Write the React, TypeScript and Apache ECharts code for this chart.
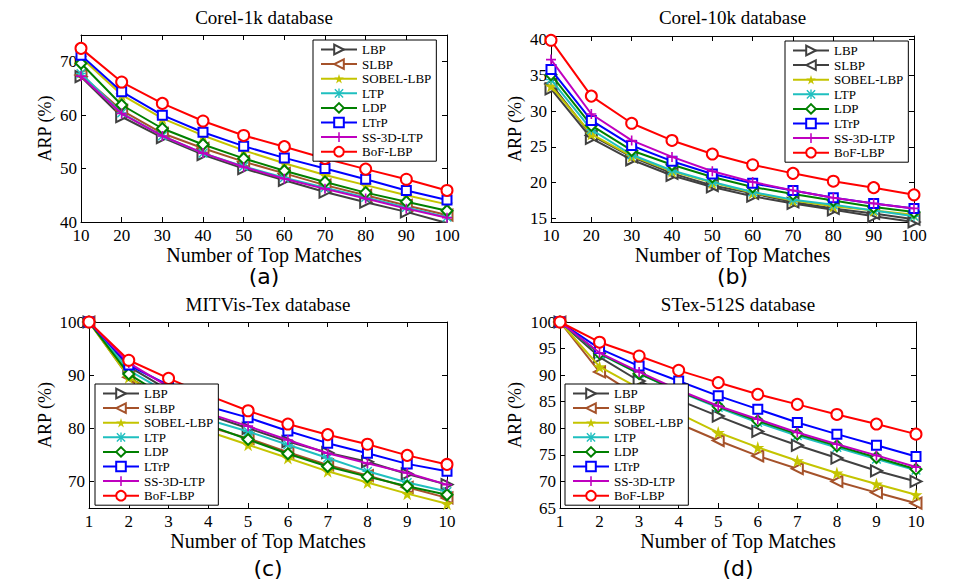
import React, { useEffect, useRef } from 'react';
import * as echarts from 'echarts';

// ---------- data ----------
const methods = ['LBP', 'SLBP', 'SOBEL-LBP', 'LTP', 'LDP', 'LTrP', 'SS-3D-LTP', 'BoF-LBP'];
const topMatchesCorel = [10, 20, 30, 40, 50, 60, 70, 80, 90, 100];
const topMatchesTex = [1, 2, 3, 4, 5, 6, 7, 8, 9, 10];

// rows follow `methods` order
const corel1kARP = [
  [67.2, 59.7, 55.8, 52.6, 50.0, 47.8, 45.6, 43.7, 41.9, 39.8],
  [67.5, 60.9, 56.6, 53.8, 51.3, 49.1, 46.9, 45.0, 43.1, 41.3],
  [70.8, 63.8, 59.4, 56.2, 53.4, 51.0, 48.8, 46.9, 45.0, 43.3],
  [67.8, 60.4, 56.1, 52.9, 50.4, 48.3, 46.4, 44.6, 42.7, 40.9],
  [69.7, 61.9, 57.5, 54.5, 51.9, 49.6, 47.5, 45.5, 43.8, 42.1],
  [71.2, 64.4, 60.0, 56.8, 54.2, 52.0, 50.0, 48.0, 45.9, 44.1],
  [67.3, 60.3, 56.1, 52.9, 50.3, 48.1, 46.2, 44.4, 42.5, 40.8],
  [72.5, 66.2, 62.2, 58.9, 56.2, 54.1, 51.9, 49.9, 48.0, 45.9],
];
const corel10kARP = [
  [33.1, 26.2, 23.2, 21.0, 19.4, 18.1, 17.1, 16.2, 15.3, 14.5],
  [33.8, 26.6, 23.6, 21.3, 19.6, 18.5, 17.3, 16.4, 15.7, 14.9],
  [33.5, 26.8, 23.7, 21.6, 20.0, 18.6, 17.5, 16.7, 16.1, 15.5],
  [34.4, 27.4, 23.9, 21.7, 20.1, 18.7, 17.6, 16.9, 16.1, 15.3],
  [35.1, 28.0, 24.5, 22.5, 20.8, 19.4, 18.4, 17.5, 16.6, 15.9],
  [35.8, 28.7, 25.2, 23.0, 21.2, 19.9, 18.9, 17.9, 17.1, 16.4],
  [37.2, 29.6, 25.9, 23.6, 21.6, 20.1, 18.9, 17.9, 17.1, 16.4],
  [39.9, 32.1, 28.3, 25.9, 24.0, 22.5, 21.3, 20.2, 19.3, 18.3],
];
const mitVisTexARP = [
  [100, 91.6, 87.2, 82.5, 80.0, 77.5, 75.4, 73.7, 71.4, 69.4],
  [100, 89.6, 85.3, 80.3, 78.1, 75.5, 73.1, 71.1, 68.9, 66.9],
  [100, 89.6, 84.7, 79.4, 76.9, 74.4, 71.9, 69.8, 67.7, 65.8],
  [100, 90.9, 86.6, 81.6, 79.4, 76.9, 74.4, 71.9, 69.8, 68.1],
  [100, 90.2, 85.6, 80.6, 77.9, 75.2, 72.8, 70.9, 69.1, 67.5],
  [100, 91.9, 88.1, 84.1, 82.0, 79.5, 77.2, 75.3, 73.3, 71.9],
  [100, 92.3, 87.8, 82.8, 80.4, 77.8, 75.3, 73.4, 71.6, 69.4],
  [100, 92.8, 89.4, 86.2, 83.3, 80.8, 78.8, 77.0, 74.9, 73.2],
];
const stex512sARP = [
  [100, 93.4, 88.9, 85.3, 82.3, 79.4, 76.8, 74.4, 72.0, 70.0],
  [100, 90.6, 85.9, 80.9, 77.7, 74.8, 72.4, 70.0, 67.9, 65.9],
  [100, 91.6, 87.5, 82.8, 79.2, 76.4, 73.9, 71.6, 69.5, 67.5],
  [100, 94.0, 90.3, 86.9, 83.9, 81.1, 78.6, 76.4, 74.2, 72.1],
  [100, 94.1, 90.3, 87.0, 84.1, 81.4, 78.9, 76.7, 74.5, 72.3],
  [100, 95.0, 91.7, 88.9, 86.1, 83.6, 81.1, 78.9, 76.8, 74.7],
  [100, 94.2, 90.6, 87.2, 84.2, 81.7, 79.2, 77.0, 74.9, 72.7],
  [100, 96.2, 93.6, 90.9, 88.6, 86.4, 84.5, 82.6, 80.8, 78.9],
];

const corelXTicks = [10, 20, 30, 40, 50, 60, 70, 80, 90, 100];
const texXTicks = [1, 2, 3, 4, 5, 6, 7, 8, 9, 10];
const corel1kYTicks = [40, 50, 60, 70];
const corel10kYTicks = [15, 20, 25, 30, 35, 40];
const mitYTicks = [70, 80, 90, 100];
const stexYTicks = [65, 70, 75, 80, 85, 90, 95, 100];

// ---------- styles ----------
const SERIF = '"Liberation Serif", "Times New Roman", serif';
const SANS = '"DejaVu Sans", "Liberation Sans", sans-serif';
const defaultColors = ['#404040', '#A5522A', '#C4C400', '#1FBFBF', '#008000', '#0000FF', '#BF00BF', '#FF0000'];
const corel10kColors = ['#404040', '#404040', '#C4C400', '#1FBFBF', '#008000', '#0000FF', '#BF00BF', '#FF0000'];

const STAR = 'path://M50,0 L61,35 L98,35 L68,57 L79,91 L50,70 L21,91 L32,57 L2,35 L39,35 Z';
const ASTERISK = 'path://M43,0 H57 V100 H43 Z M0,43 H100 V57 H0 Z M12,2 L98,88 L88,98 L2,12 Z M88,2 L98,12 L12,98 L2,88 Z';
const PLUS = 'path://M42,0 H58 V100 H42 Z M0,42 H100 V58 H0 Z';
const symbols = [
  { symbol: 'emptyTriangle', size: 11, rotate: -90 },
  { symbol: 'emptyTriangle', size: 11, rotate: 90 },
  { symbol: STAR, size: 13, rotate: 0 },
  { symbol: ASTERISK, size: 10, rotate: 0 },
  { symbol: 'emptyDiamond', size: 11, rotate: 0 },
  { symbol: 'emptyRect', size: 9, rotate: 0 },
  { symbol: PLUS, size: 10, rotate: 0 },
  { symbol: 'emptyCircle', size: 11, rotate: 0 },
];

const panels = [
  {
    title: 'Corel-1k database', sub: '(a)', xs: topMatchesCorel, values: corel1kARP, colors: defaultColors,
    grid: { left: 81, top: 35, width: 366, height: 187 },
    xMin: 10, xMax: 100, xInterval: 10, xTicks: corelXTicks,
    yMin: 40, yMax: 75, yTicks: corel1kYTicks, yNameGap: 27,
    legend: { left: 313, top: 40 }, titleY: 17, subY: 276,
  },
  {
    title: 'Corel-10k database', sub: '(b)', xs: topMatchesCorel, values: corel10kARP, colors: corel10kColors,
    grid: { left: 551, top: 36, width: 363, height: 186 },
    xMin: 10, xMax: 100, xInterval: 10, xTicks: corelXTicks,
    yMin: 14.5, yMax: 40.5, yTicks: corel10kYTicks, yNameGap: 27,
    legend: { left: 785, top: 41 }, titleY: 17, subY: 276,
  },
  {
    title: 'MITVis-Tex database', sub: '(c)', xs: topMatchesTex, values: mitVisTexARP, colors: defaultColors,
    grid: { left: 89, top: 322, width: 358, height: 186 },
    xMin: 1, xMax: 10, xInterval: 1, xTicks: texXTicks,
    yMin: 65, yMax: 100, yTicks: mitYTicks, yNameGap: 35,
    legend: { left: 95, top: 384 }, titleY: 304, subY: 568,
  },
  {
    title: 'STex-512S database', sub: '(d)', xs: topMatchesTex, values: stex512sARP, colors: defaultColors,
    grid: { left: 560, top: 322, width: 356, height: 186 },
    xMin: 1, xMax: 10, xInterval: 1, xTicks: texXTicks,
    yMin: 65, yMax: 100, yTicks: stexYTicks, yNameGap: 36,
    legend: { left: 565, top: 384 }, titleY: 304, subY: 568,
  },
];

function buildOption() {
  const grid: any[] = [];
  const xAxis: any[] = [];
  const yAxis: any[] = [];
  const series: any[] = [];
  const legend: any[] = [];
  const graphic: any[] = [];

  const axisLine = { show: true, onZero: false, lineStyle: { color: '#000', width: 1 } };
  const tick = (vals: number[]) => ({ show: true, inside: true, length: 5, customValues: vals, lineStyle: { color: '#000', width: 1 } });

  panels.forEach((p, pi) => {
    grid.push({ ...p.grid, containLabel: false, show: false });
    const cx = p.grid.left + p.grid.width / 2;

    xAxis.push({
      type: 'value', gridIndex: pi, position: 'bottom', min: p.xMin, max: p.xMax, interval: p.xInterval,
      axisLine, axisTick: tick(p.xTicks), splitLine: { show: false },
      axisLabel: { customValues: p.xTicks, color: '#000', fontFamily: SERIF, fontSize: 17, margin: 5 },
      name: 'Number of Top Matches', nameLocation: 'middle', nameGap: 19,
      nameTextStyle: { color: '#000', fontFamily: SERIF, fontSize: 20, verticalAlign: 'top' },
    });
    xAxis.push({
      type: 'value', gridIndex: pi, position: 'top', min: p.xMin, max: p.xMax, interval: p.xInterval,
      axisLine, axisTick: tick(p.xTicks), splitLine: { show: false }, axisLabel: { show: false },
    });
    yAxis.push({
      type: 'value', gridIndex: pi, position: 'left', min: p.yMin, max: p.yMax,
      axisLine, axisTick: tick(p.yTicks), splitLine: { show: false },
      axisLabel: { customValues: p.yTicks, color: '#000', fontFamily: SERIF, fontSize: 17, margin: 4 },
      name: 'ARP (%)', nameLocation: 'middle', nameGap: p.yNameGap, nameRotate: 90,
      nameTextStyle: { color: '#000', fontFamily: SERIF, fontSize: 18 },
    });
    yAxis.push({
      type: 'value', gridIndex: pi, position: 'right', min: p.yMin, max: p.yMax,
      axisLine, axisTick: tick(p.yTicks), splitLine: { show: false }, axisLabel: { show: false },
    });

    const names: string[] = [];
    methods.forEach((m, mi) => {
      const name = `${m}#${pi}`;
      names.push(name);
      const s = symbols[mi];
      series.push({
        type: 'line', name, xAxisIndex: pi * 2, yAxisIndex: pi * 2,
        data: p.xs.map((x, i) => [x, p.values[mi][i]]),
        symbol: s.symbol, symbolSize: s.size, symbolRotate: s.rotate, showSymbol: true,
        lineStyle: { color: p.colors[mi], width: 2 },
        itemStyle: { color: p.colors[mi] },
        emphasis: { disabled: true }, silent: true, z: 2 + mi * 0.01,
      });
    });

    legend.push({
      show: true, orient: 'vertical', left: p.legend.left, top: p.legend.top, data: names,
      selectedMode: false, itemWidth: 36, itemHeight: 12, itemGap: 1.6,
      padding: [3, 5, 3, 7], borderColor: '#000', borderWidth: 1, backgroundColor: '#fff', borderRadius: 0,
      formatter: (n: string) => n.split('#')[0],
      textStyle: { color: '#000', fontFamily: SERIF, fontSize: 13, lineHeight: 13 },
      z: 10,
    });

    graphic.push({
      type: 'text', x: cx, y: p.titleY,
      style: { text: p.title, fill: '#000', font: `19px ${SERIF}`, textAlign: 'center', textVerticalAlign: 'middle' },
    });
    graphic.push({
      type: 'text', x: cx, y: p.subY,
      style: { text: p.sub, fill: '#000', font: `22px ${SANS}`, textAlign: 'center', textVerticalAlign: 'middle' },
    });
  });

  return { animation: false, backgroundColor: '#fff', grid, xAxis, yAxis, series, legend, graphic };
}

export default function App() {
  const ref = useRef<HTMLDivElement>(null);
  useEffect(() => {
    const chart = echarts.init(ref.current!, null, { renderer: 'svg' });
    chart.setOption(buildOption() as any);
    return () => chart.dispose();
  }, []);
  return (
    <div
      ref={ref}
      style={{ position: 'absolute', left: 0, top: 0, width: 954, height: 581, background: '#fff' }}
    />
  );
}
